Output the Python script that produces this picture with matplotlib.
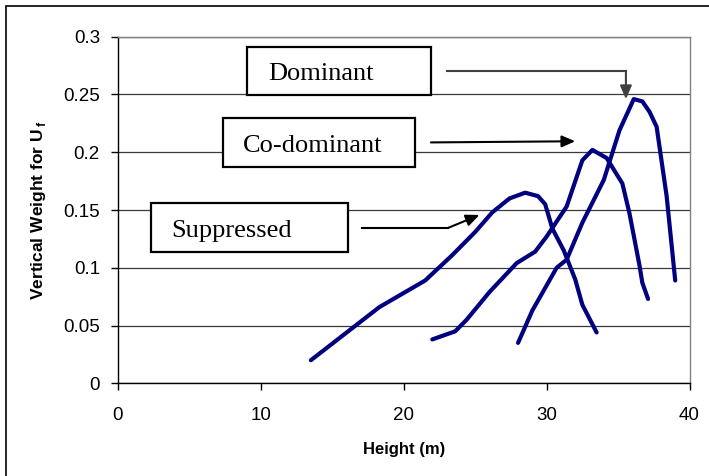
import matplotlib
matplotlib.use("Agg")
import matplotlib.pyplot as plt
from matplotlib.patches import Rectangle

# vertical weight profiles by crown class
suppressed_h = [13.5, 18.3, 21.5, 23.4, 25.0, 26.2, 27.4, 28.5, 29.4, 29.9, 30.4, 31.2, 32.0, 32.5, 33.5]
suppressed_w = [0.020, 0.066, 0.089, 0.111, 0.131, 0.148, 0.160, 0.165, 0.162, 0.155, 0.134, 0.115, 0.090, 0.068, 0.044]

codominant_h = [22.0, 23.6, 24.4, 26.0, 27.9, 29.2, 30.0, 31.4, 32.5, 33.2, 34.2, 35.3, 35.8, 36.5, 36.7, 37.1]
codominant_w = [0.038, 0.045, 0.055, 0.079, 0.104, 0.114, 0.127, 0.153, 0.193, 0.202, 0.195, 0.173, 0.147, 0.102, 0.087, 0.073]

dominant_h = [28.0, 29.0, 30.7, 31.4, 32.5, 34.0, 35.1, 36.1, 36.7, 37.2, 37.7, 38.4, 39.0]
dominant_w = [0.035, 0.063, 0.100, 0.107, 0.139, 0.176, 0.219, 0.246, 0.244, 0.235, 0.222, 0.162, 0.089]

x_ticks = [0, 10, 20, 30, 40]
y_ticks = [0, 0.05, 0.1, 0.15, 0.2, 0.25, 0.3]
y_tick_labels = ["0", "0.05", "0.1", "0.15", "0.2", "0.25", "0.3"]

plt.rcParams["font.family"] = ["Liberation Sans", "DejaVu Sans"]
plt.rcParams["mathtext.fontset"] = "custom"
plt.rcParams["mathtext.rm"] = "Liberation Sans:bold"
plt.rcParams["mathtext.bf"] = "Liberation Sans:bold"

fig = plt.figure(figsize=(7.09, 4.76), dpi=100)
ax = fig.add_axes([0.1664, 0.1947, 0.8061, 0.7282])

# outer chart border (only left/top edges fall inside the canvas)
fig.patches.append(Rectangle((5.5 / 709, -0.2), 1.5, 1.2 - 5.5 / 476,
                             transform=fig.transFigure, fill=False,
                             edgecolor="black", linewidth=1.2))

for h, w in [(suppressed_h, suppressed_w), (codominant_h, codominant_w), (dominant_h, dominant_w)]:
    ax.plot(h, w, color="#000080", linewidth=3.0, solid_capstyle="round",
            solid_joinstyle="round", zorder=3)

ax.set_xlim(0, 40)
ax.set_ylim(0, 0.3)
ax.set_xticks(x_ticks)
ax.set_yticks(y_ticks)
ax.set_yticklabels(y_tick_labels)
ax.tick_params(axis="both", direction="out", length=5, width=1, labelsize=13.5, colors="black")
ax.tick_params(axis="x", pad=12)
ax.tick_params(axis="y", pad=8)
ax.yaxis.grid(True, color="#3a3a3a", linewidth=0.9)
ax.set_axisbelow(True)
for side in ["top", "right"]:
    ax.spines[side].set_color("#808080")
for side in ["left", "bottom"]:
    ax.spines[side].set_color("black")
for s in ax.spines.values():
    s.set_linewidth(1.0)

ax.set_xlabel("Height (m)", fontsize=12, fontweight="bold", labelpad=13)
ax.set_ylabel(r"Vertical Weight for U$\,_{\mathrm{f}}$", fontsize=12.5, fontweight="bold", labelpad=11)

# labelled boxes: (label, left, bottom, right, top)
boxes = [
    ("Dominant", 9.03, 0.2496, 21.9, 0.291),
    ("Co-dominant", 7.35, 0.187, 20.8, 0.2296),
    ("Suppressed", 2.31, 0.1137, 16.1, 0.156),
]
text_x = {"Dominant": 10.5, "Co-dominant": 8.75, "Suppressed": 3.75}
for label, x0, y0, x1, y1 in boxes:
    ax.add_patch(Rectangle((x0, y0), x1 - x0, y1 - y0, facecolor="white",
                           edgecolor="black", linewidth=1.6, zorder=4))
    ax.text(text_x[label], (y0 + y1) / 2 - 0.003, label, fontsize=19,
            family=["Liberation Serif", "DejaVu Serif"], va="center", ha="left", zorder=5)

arrow_kw = dict(arrowstyle="-|>,head_length=0.8,head_width=0.35", shrinkA=0, shrinkB=0)

# Dominant: elbow arrow, dark grey
ax.plot([23.0, 35.55], [0.2703, 0.2703], color="#404040", linewidth=1.5, zorder=4)
ax.annotate("", xy=(35.55, 0.246), xytext=(35.55, 0.2705),
            arrowprops=dict(color="#404040", linewidth=1.5, **arrow_kw), zorder=4)

# Co-dominant: straight arrow
ax.annotate("", xy=(32.0, 0.2095), xytext=(21.9, 0.2085),
            arrowprops=dict(color="black", linewidth=1.5, **arrow_kw), zorder=4)

# Suppressed: flat then angled up
ax.plot([17.1, 23.1], [0.1345, 0.1345], color="black", linewidth=1.5, zorder=4)
ax.annotate("", xy=(25.3, 0.1457), xytext=(23.1, 0.1345),
            arrowprops=dict(color="black", linewidth=1.5, **arrow_kw), zorder=4)

fig.savefig("out.png", dpi=100)
